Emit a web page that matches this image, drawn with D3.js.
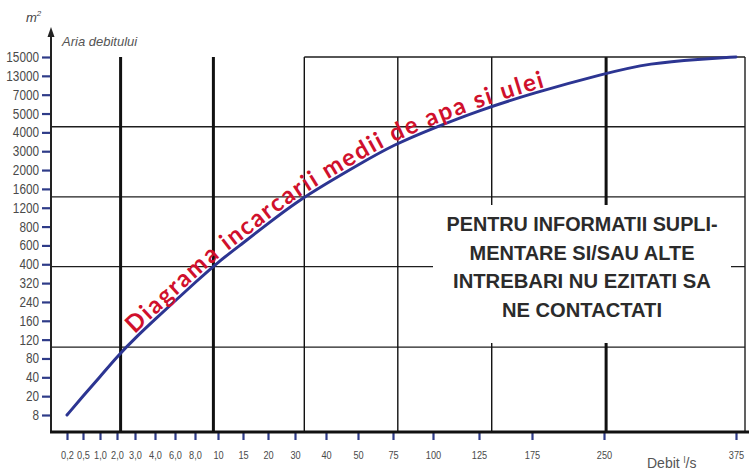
<!DOCTYPE html>
<html><head><meta charset="utf-8">
<script src="https://cdn.jsdelivr.net/npm/d3@7"></script>
<style>
body{margin:0;background:#fff;}
svg{display:block;}
</style></head><body>
<svg id="c" width="749" height="472"></svg>
<script>
// ---------- DATA ----------
const yTicks = [15000, 13000, 7000, 5000, 4000, 3000, 2000, 1600, 1200, 800, 600, 400, 320, 240, 160, 120, 80, 40, 20, 8];
const xTicks = [0.2, 0.5, 1, 2, 3, 4, 6, 8, 10, 15, 20, 30, 40, 50, 75, 100, 125, 175, 250, 375];
const xTickLabels = ["0,2","0,5","1,0","2,0","3,0","4,0","6,0","8,0","10","15","20","30","40","50","75","100","125","175","250","375"];
const curveX = [0.2, 0.5, 1, 2, 3, 4, 6, 8, 10, 15, 20, 30, 40, 50, 75, 100, 125, 175, 250, 294, 341, 375];
const curveY = [8, 20, 41, 84, 123, 166, 244, 322, 424, 625, 864, 1300, 1710, 2270, 3330, 4220, 5330, 7410, 13240, 14360, 14780, 15000];
const gridX = [2.2, 9.6, 33, 78, 137, 252];
const gridY = [4300, 1430, 390, 104];
const curveLabel = "Diagrama incarcarii medii de apa si ulei";
const boxLines = ["PENTRU INFORMATII SUPLI-", "MENTARE SI/SAU ALTE", "INTREBARI NU EZITATI SA", "NE CONTACTATI"];
const yTitle = "Aria debitului";
const xTitle = "Debit";

// ---------- LAYOUT ----------
const M = {left: 51, top: 57, right: 745, bottom: 432};
const Y_LAST = 415;                       // pixel row of the lowest y label
const X_TICK_PX = [16,32,49,66,84,104,124,144,167,192,217,244,275,307,342,382,428,481,553,685]; // irregular axis spacing
const THICK_GRID = new Set([2.2, 9.6, 252]);
const BOX = {x0: 433, x1: 731, y0: 205, y1: 343};
const BOX_TEXT_W = [271, 225, 258, 160];
const FONT = "'Liberation Sans',Arial,sans-serif";
const LABEL_FONT = "Lato,'Open Sans',sans-serif";

const svg = d3.select("#c");
const yStep = (Y_LAST - M.top) / (yTicks.length - 1);
const x = d3.scaleLinear().domain(xTicks).range(X_TICK_PX.map(p => M.left + p));
const y = d3.scaleLinear().domain(yTicks).range(yTicks.map((d, i) => M.top + i * yStep));

function squeeze(sel, f) {
  sel.each(function () {
    const w = this.getComputedTextLength();
    d3.select(this).attr("textLength", w * f).attr("lengthAdjust", "spacingAndGlyphs");
  });
}

// grid
const g = svg.append("g");
g.selectAll("line.h").data(gridY).join("line")
  .attr("x1", M.left).attr("x2", M.right)
  .attr("y1", d => y(d)).attr("y2", d => y(d))
  .attr("stroke", "#1e1e1e").attr("stroke-width", 1.4);
g.selectAll("line.v").data(gridX).join("line")
  .attr("x1", d => x(d)).attr("x2", d => x(d))
  .attr("y1", M.top).attr("y2", M.bottom)
  .attr("stroke", "#111").attr("stroke-width", d => THICK_GRID.has(d) ? 3 : 1.4);
// frame top & right
g.append("line").attr("x1", x(33)).attr("x2", M.right).attr("y1", M.top).attr("y2", M.top)
  .attr("stroke", "#1e1e1e").attr("stroke-width", 1.4);
g.append("line").attr("x1", M.right).attr("x2", M.right).attr("y1", M.top).attr("y2", M.bottom)
  .attr("stroke", "#1e1e1e").attr("stroke-width", 1.4);

// text box
svg.append("rect").attr("x", BOX.x0).attr("y", BOX.y0)
  .attr("width", BOX.x1 - BOX.x0).attr("height", BOX.y1 - BOX.y0).attr("fill", "#fff");
const bx = (BOX.x0 + BOX.x1) / 2;
svg.append("g").selectAll("text").data(boxLines).join("text")
  .attr("x", bx).attr("y", (d, i) => 231 + i * 28.7)
  .attr("text-anchor", "middle")
  .attr("font-family", FONT).attr("font-weight", "bold").attr("font-size", 20)
  .attr("fill", "#2b2b2b")
  .attr("textLength", (d, i) => BOX_TEXT_W[i]).attr("lengthAdjust", "spacingAndGlyphs")
  .text(d => d);

// axes
const yAxis = svg.append("g").attr("transform", `translate(${M.left},0)`)
  .call(d3.axisLeft(y).tickValues(yTicks).tickSize(9).tickPadding(3).tickFormat(d => String(d)));
yAxis.select(".domain").remove();
yAxis.selectAll(".tick line").attr("stroke", "#2e3b88").attr("stroke-width", 2.2);
yAxis.selectAll(".tick text").attr("font-family", FONT).attr("font-size", 14).attr("fill", "#4a4a4a")
  .call(squeeze, 0.84);

const xAxis = svg.append("g").attr("transform", `translate(0,${M.bottom})`)
  .call(d3.axisBottom(x).tickValues(xTicks).tickSize(8).tickPadding(11).tickFormat((d, i) => xTickLabels[i]));
xAxis.select(".domain").remove();
xAxis.selectAll(".tick line").attr("stroke", "#2e3b88").attr("stroke-width", 2.2);
xAxis.selectAll(".tick text").attr("font-family", FONT).attr("font-size", 11.5).attr("fill", "#4a4a4a")
  .call(squeeze, 0.8);

// axis lines
svg.append("line").attr("x1", M.left).attr("x2", M.left).attr("y1", M.bottom + 1).attr("y2", 33)
  .attr("stroke", "#222").attr("stroke-width", 2);
svg.append("path").attr("d", `M${M.left},27 L${M.left - 3.5},37 L${M.left + 3.5},37 Z`).attr("fill", "#222");
svg.append("line").attr("x1", M.left - 1).attr("x2", 749).attr("y1", M.bottom).attr("y2", M.bottom)
  .attr("stroke", "#111").attr("stroke-width", 3);

// titles
const mt = svg.append("text").attr("x", 26).attr("y", 22).attr("font-family", FONT)
  .attr("font-style", "italic").attr("font-size", 13).attr("fill", "#444");
mt.append("tspan").text("m");
mt.append("tspan").attr("dy", -6).attr("font-size", 8).text("2");
svg.append("text").attr("x", 62).attr("y", 46).attr("font-family", FONT)
  .attr("font-style", "italic").attr("font-size", 13).attr("fill", "#555").text(yTitle);
const xt = svg.append("text").attr("x", 647).attr("y", 468).attr("font-family", FONT)
  .attr("font-size", 14).attr("fill", "#555");
xt.append("tspan").text(xTitle + " ");
xt.append("tspan").attr("dy", -5).attr("font-size", 9).text("l");
xt.append("tspan").attr("dy", 5).text("/s");

// curve
const pts = curveX.map((v, i) => [v, curveY[i]]);
const line = d3.line().x(d => x(d[0])).y(d => y(d[1])).curve(d3.curveBasis);
const path = svg.append("path").attr("id", "curve").attr("d", line(pts))
  .attr("fill", "none").attr("stroke", "#2c3592").attr("stroke-width", 3).attr("stroke-linecap", "round");

// label along the curve, one textPath per word
const node = path.node();
const total = node.getTotalLength();
function lenAtX(px) {
  let lo = 0, hi = total;
  for (let k = 0; k < 40; k++) {
    const mid = (lo + hi) / 2;
    if (node.getPointAtLength(mid).x < px) lo = mid; else hi = mid;
  }
  return lo;
}
const L0 = lenAtX(137), L1 = lenAtX(546);
function measure(s) {
  const t = svg.append("text").attr("font-family", LABEL_FONT).attr("font-weight", "bold")
    .attr("font-size", 24).attr("visibility", "hidden").text(s);
  const w = t.node().getComputedTextLength();
  t.remove();
  return w;
}
const words = curveLabel.split(" ");
const wordW = words.map(measure);
const spaceW = measure("a a") - measure("aa");
const nChars = curveLabel.length;
const natural = d3.sum(wordW) + spaceW * (words.length - 1);
const e = (L1 - L0 - natural) / (nChars - 1);
let off = L0;
const lbl = svg.append("g");
words.forEach((w, i) => {
  const len = wordW[i] + e * (w.length - 1);
  lbl.append("text").attr("font-family", LABEL_FONT).attr("font-weight", "bold")
    .attr("font-size", 24).attr("fill", "#d0102c").attr("dy", -3)
    .append("textPath").attr("href", "#curve").attr("startOffset", off)
    .attr("textLength", len).attr("lengthAdjust", "spacing")
    .text(w);
  off += len + e + spaceW + e;
});
</script>
</body></html>
